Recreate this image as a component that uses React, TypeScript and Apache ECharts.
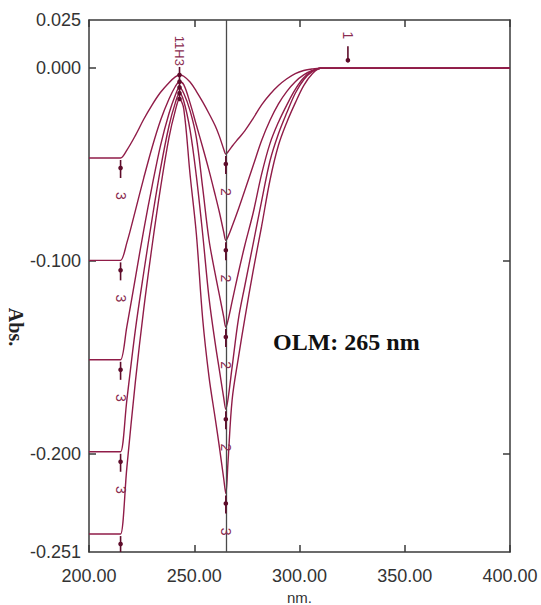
import React, { useEffect, useRef } from "react";
import * as echarts from "echarts";

// wavelength grid (nm)
const wavelengths = [200, 214, 215, 218, 222, 226, 230, 234, 238, 241, 243, 245, 248, 251, 254, 257, 260, 262, 264, 265, 266, 268, 271, 274, 278, 282, 286, 290, 294, 298, 302, 306, 310, 320, 400];

// absorbance of the five derivative spectra
const curveA = [-0.0466, -0.0466, -0.0466, -0.0425, -0.035, -0.0265, -0.019, -0.0125, -0.0075, -0.0045, -0.0035, -0.0042, -0.0072, -0.012, -0.0175, -0.0235, -0.03, -0.0355, -0.042, -0.0445, -0.0435, -0.0405, -0.0365, -0.0325, -0.026, -0.019, -0.0135, -0.009, -0.0055, -0.0028, -0.0012, -0.0004, 0, 0, 0];
const curveB = [-0.0997, -0.0997, -0.0997, -0.0905, -0.074, -0.057, -0.041, -0.027, -0.016, -0.0095, -0.007, -0.0085, -0.018, -0.0295, -0.041, -0.053, -0.066, -0.075, -0.085, -0.0893, -0.0875, -0.082, -0.073, -0.0635, -0.0505, -0.0375, -0.027, -0.0185, -0.012, -0.007, -0.0035, -0.0012, 0, 0, 0];
const curveC = [-0.1513, -0.1513, -0.1513, -0.134, -0.109, -0.084, -0.061, -0.04, -0.0235, -0.014, -0.01, -0.013, -0.022, -0.036, -0.062, -0.089, -0.107, -0.118, -0.129, -0.1343, -0.131, -0.121, -0.106, -0.092, -0.075, -0.055, -0.039, -0.028, -0.019, -0.011, -0.005, -0.0015, 0, 0, 0];
const curveD = [-0.199, -0.199, -0.199, -0.172, -0.136, -0.106, -0.078, -0.052, -0.03, -0.018, -0.013, -0.017, -0.032, -0.056, -0.086, -0.119, -0.143, -0.157, -0.171, -0.177, -0.172, -0.155, -0.13, -0.113, -0.091, -0.069, -0.048, -0.034, -0.023, -0.013, -0.006, -0.0018, 0, 0, 0];
const curveE = [-0.2417, -0.2417, -0.2417, -0.207, -0.163, -0.125, -0.092, -0.062, -0.036, -0.022, -0.016, -0.021, -0.055, -0.086, -0.13, -0.16, -0.182, -0.197, -0.213, -0.2207, -0.205, -0.172, -0.15, -0.13, -0.105, -0.082, -0.058, -0.04, -0.028, -0.018, -0.009, -0.003, 0, 0, 0];
const curves = [curveA, curveB, curveC, curveD, curveE];

// axes
const xMin = 200;
const xMax = 400;
const xInterval = 50;
const yMin = -0.251;
const yMax = 0.025;
const yLabelValues = [0.025, 0, -0.1, -0.2, -0.251];
const yTickValues = [0, -0.1, -0.2];

// peak-pick markers: curve index, wavelength, kind (1 below, -1 arrow above, 0 peak), text
const markerCurve = [0, 1, 2, 3, 4, 0, 1, 2, 3, 4, 0, 1, 2, 3, 4, 0];
const markerNm = [215, 215, 215, 215, 215, 265, 265, 265, 265, 265, 243, 243, 243, 243, 243, 323];
const markerKind = [1, 1, 1, 1, 1, 1, 1, 1, 1, 1, 0, 0, 0, 0, 0, -1];
const markerText = ["3", "3", "3", "3", "", "2", "2", "2", "2", "3", "11H3", "", "", "", "", "1"];

const cursorNm = 265;
const annotation = "OLM: 265 nm";
const yName = "Abs.";
const xName = "nm.";

function valueAt(curve: number[], x: number): number {
  for (let i = 0; i < wavelengths.length - 1; i++) {
    const x0 = wavelengths[i];
    const x1 = wavelengths[i + 1];
    if (x >= x0 && x <= x1) {
      const t = (x - x0) / (x1 - x0);
      return curve[i] + t * (curve[i + 1] - curve[i]);
    }
  }
  return curve[curve.length - 1];
}

const LINE = "#901c48";
const MARK = "#5e0c2a";
const AX = "#3a3a3a";
const SANS = '"Liberation Sans", Arial, sans-serif';
const SERIF = '"Liberation Serif", "Times New Roman", serif';

export default function App() {
  const ref = useRef<HTMLDivElement>(null);
  useEffect(() => {
    if (!ref.current) return;
    const chart = echarts.init(ref.current, null, { renderer: "svg" });

    const lineSeries = curves.map((c, i) => {
      const s: any = {
        type: "line",
        name: "s" + i,
        data: wavelengths.map((w, j) => [w, c[j]]),
        showSymbol: false,
        smooth: 0.35,
        lineStyle: { color: LINE, width: 1.4 },
        z: 3,
      };
      if (i === 0) {
        s.markLine = {
          silent: true,
          symbol: ["none", "none"],
          label: { show: false },
          lineStyle: { color: "#4a4a4a", width: 1.3, type: "solid" },
          data: [{ xAxis: cursorNm }],
        };
      }
      return s;
    });

    const markerSeries: any = {
      type: "custom",
      coordinateSystem: "cartesian2d",
      clip: true,
      z: 5,
      encode: { x: 0, y: 1 },
      data: markerNm.map((w, i) => [w, valueAt(curves[markerCurve[i]], w), markerKind[i]]),
      renderItem: (params: any, api: any) => {
        const p = api.coord([api.value(0), api.value(1)]);
        const kind = api.value(2);
        const x = p[0];
        const y = p[1];
        const label = markerText[params.dataIndex];
        const children: any[] = [];
        if (kind === 1) {
          children.push({ type: "line", shape: { x1: x, y1: y + 2, x2: x, y2: y + 20 }, style: { stroke: MARK, lineWidth: 1.6 } });
          children.push({ type: "circle", shape: { cx: x, cy: y + 10, r: 2.3 }, style: { fill: MARK } });
          if (label) {
            children.push({
              type: "text", x, y: y + 38, rotation: -Math.PI / 2,
              style: { text: label, fill: "#8a2c50", font: `14px ${SANS}`, align: "center", verticalAlign: "middle" },
            });
          }
        } else if (kind === -1) {
          children.push({ type: "line", shape: { x1: x, y1: y - 6, x2: x, y2: y - 22 }, style: { stroke: MARK, lineWidth: 1.6 } });
          children.push({ type: "circle", shape: { cx: x, cy: y - 8, r: 2.3 }, style: { fill: MARK } });
          if (label) {
            children.push({
              type: "text", x, y: y - 29, rotation: -Math.PI / 2,
              style: { text: label, fill: "#8a2c50", font: `14px ${SANS}`, align: "right", verticalAlign: "middle" },
            });
          }
        } else {
          children.push({ type: "line", shape: { x1: x, y1: y, x2: x, y2: y - 8 }, style: { stroke: MARK, lineWidth: 1.6 } });
          children.push({ type: "circle", shape: { cx: x, cy: y, r: 2.3 }, style: { fill: MARK } });
          if (label) {
            children.push({
              type: "text", x, y: y - 9, rotation: -Math.PI / 2,
              style: { text: label, fill: "#8a2c50", font: `13px ${SANS}`, align: "right", verticalAlign: "middle" },
            });
          }
        }
        return { type: "group", children };
      },
    };

    const axisLine = { show: true, onZero: false, lineStyle: { color: AX, width: 1.5 } };
    const tick = { show: true, inside: true, length: 7, lineStyle: { color: AX, width: 1.5 } };

    chart.setOption({
      animation: false,
      backgroundColor: "#ffffff",
      grid: { left: 89, right: 31, top: 20, bottom: 53, containLabel: false, outerBoundsMode: "none" },
      xAxis: [
        {
          type: "value", position: "bottom", min: xMin, max: xMax, interval: xInterval,
          name: xName, nameLocation: "middle", nameGap: 36,
          nameTextStyle: { fontSize: 15, color: "#333", fontFamily: SANS },
          axisLine, axisTick: tick,
          axisLabel: { formatter: (v: number) => v.toFixed(2), fontSize: 18, color: "#333", margin: 15, fontFamily: SANS },
          splitLine: { show: false },
        },
        {
          type: "value", position: "top", min: xMin, max: xMax, interval: xInterval,
          axisLine, axisTick: tick, axisLabel: { show: false }, splitLine: { show: false },
        },
      ],
      yAxis: [
        {
          type: "value", position: "left", min: yMin, max: yMax,
          axisLine, axisTick: { ...tick, customValues: yTickValues },
          axisLabel: { customValues: yLabelValues, formatter: (v: number) => v.toFixed(3), fontSize: 18, color: "#333", margin: 8, fontFamily: SANS },
          splitLine: { show: false },
        },
        {
          type: "value", position: "right", min: yMin, max: yMax,
          axisLine, axisTick: { ...tick, customValues: yTickValues },
          axisLabel: { show: false }, splitLine: { show: false },
        },
      ],
      graphic: [
        {
          type: "text", x: 16, y: 327, rotation: -Math.PI / 2,
          style: { text: yName, font: `bold 20px ${SERIF}`, fill: "#222", align: "center", verticalAlign: "middle" },
        },
        {
          type: "text", x: 273, y: 342,
          style: { text: annotation, font: `bold 24px ${SERIF}`, fill: "#111", align: "left", verticalAlign: "middle" },
        },
      ],
      series: [...lineSeries, markerSeries],
    });
    return () => chart.dispose();
  }, []);

  return <div ref={ref} style={{ position: "fixed", left: 0, top: 0, width: 541, height: 605, background: "#fff" }} />;
}
